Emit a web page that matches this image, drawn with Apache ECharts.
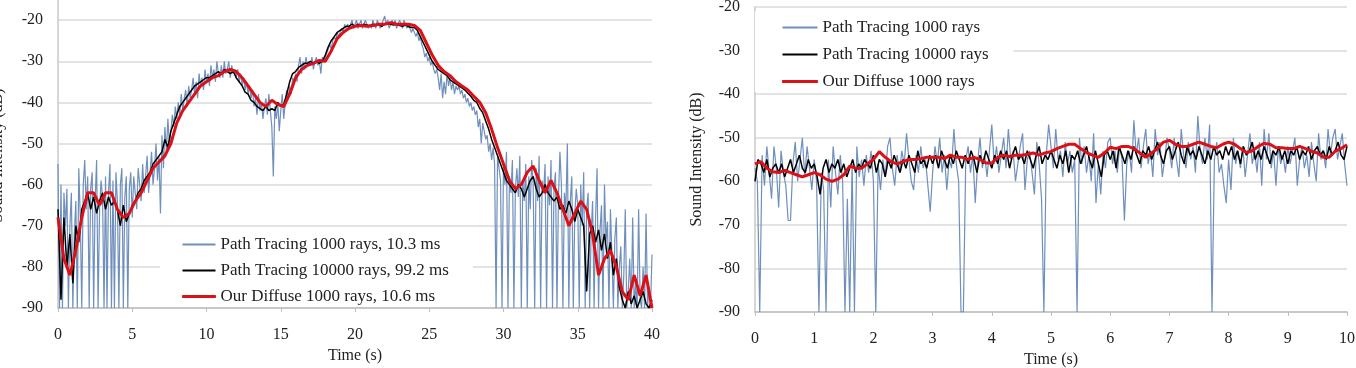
<!DOCTYPE html>
<html>
<head>
<meta charset="utf-8">
<script src="https://cdn.jsdelivr.net/npm/echarts@6/dist/echarts.min.js"></script>
<style>
  html, body { margin: 0; padding: 0; background: #fff; }
  #main { width: 1356px; height: 368px; }
</style>
</head>
<body>
<div id="main"></div>
<script>
// left chart: 0..40 s
var leftNames = ['Path Tracing 1000 rays, 10.3 ms', 'Path Tracing 10000 rays, 99.2 ms', 'Our Diffuse 1000 rays, 10.6 ms'];
var leftXTicks = [0, 5, 10, 15, 20, 25, 30, 35, 40];
var leftBlueStep = 0.1;
var leftBlue = [
  -55, -90, -60, -90, -62, -70, -61, -90, -70, -62,
  -90, -72, -64, -90, -56, -68, -90, -60, -54, -66,
  -58, -90, -61, -57, -90, -64, -54, -90, -66, -59,
  -63, -90, -58, -90, -62, -55, -90, -59, -90, -57,
  -64, -90, -60, -56, -90, -63, -58, -90, -61, -57,
  -68, -58, -62, -66, -56, -60, -64, -55, -62, -58,
  -53, -62, -57, -52, -60, -56, -50, -59, -53, -67,
  -48, -56, -46, -52, -44, -50, -47, -43, -46, -41,
  -44, -40, -43, -38, -42, -39, -37, -41, -36, -39,
  -37, -34, -38, -35, -39, -33, -36, -34, -37, -32,
  -35, -33, -36, -31, -34, -32, -35, -30, -33, -34,
  -31, -34, -30, -33, -32, -30, -34, -31, -33, -32,
  -34, -32, -35, -33, -36, -34, -37, -35, -38, -36,
  -39, -37, -41, -39, -43, -38, -42, -40, -44, -41,
  -39, -43, -38, -42, -46, -58, -41, -44, -40, -47,
  -42, -38, -44, -40, -37, -39, -36, -38, -34, -35,
  -33, -35, -31, -29, -33, -30, -32, -29, -31, -30,
  -31, -29, -32, -30, -29, -31, -30, -33, -29, -30,
  -29, -28, -27, -26, -27, -25, -24, -25, -23, -24,
  -23, -22, -23, -21, -22, -21, -22, -21, -20, -22,
  -21, -20, -22, -21, -20, -22, -21, -20, -21, -22,
  -21, -22, -20, -21, -22, -20, -21, -22, -21, -20,
  -19, -21, -20, -22, -21, -20, -21, -20, -22, -21,
  -20, -21, -22, -20, -21, -22, -21, -22, -23, -22,
  -22, -24, -23, -25, -24, -26, -27, -29, -28, -30,
  -29, -31, -30, -32, -33, -32, -34, -37, -33, -39,
  -35, -38, -33, -36, -34, -37, -35, -38, -36, -37,
  -36, -38, -37, -39, -38, -40, -39, -41, -40, -42,
  -41, -43, -42, -46, -44, -50, -45, -47, -49, -48,
  -52, -50, -54, -51, -55, -90, -53, -56, -59, -90,
  -55, -60, -52, -90, -58, -62, -54, -90, -61, -56,
  -63, -53, -90, -59, -64, -55, -90, -58, -66, -54,
  -60, -90, -56, -64, -53, -90, -59, -62, -55, -90,
  -58, -65, -54, -90, -61, -57, -90, -63, -52, -60,
  -90, -62, -66, -50, -90, -64, -58, -90, -67, -61,
  -65, -90, -60, -70, -57, -90, -66, -62, -90, -72,
  -64, -90, -68, -56, -90, -71, -65, -90, -60, -74,
  -69, -90, -66, -77, -90, -73, -68, -90, -80, -75,
  -90, -82, -66, -90, -86, -78, -90, -68, -90, -84,
  -90, -66, -88, -90, -80, -90, -67, -90, -85, -90,
  -77
];
var leftBlackStep = 0.2;
var leftBlack = [
  -66, -88, -68, -80, -72, -84, -70, -74, -66, -64,
  -62, -66, -63, -67, -64, -62, -66, -63, -65, -64,
  -66, -70, -65, -69, -67, -65, -64, -62, -61, -59,
  -58, -57, -55, -54, -53, -52, -49, -51, -47, -45,
  -43, -41, -40, -39, -38, -37, -36, -35.5, -35, -34.5,
  -34, -34, -33.5, -33, -32.5, -33, -32, -32.5, -33, -32.5,
  -34, -35, -36, -37.5, -38, -39.5, -40, -41, -41.5, -42,
  -41, -42, -41.5, -42, -40, -41, -40.5, -38, -35, -33,
  -32.5, -31.5, -31, -30.5, -30.5, -30, -30.5, -30, -30.5, -30,
  -28.5, -26.5, -25, -24, -23, -22.5, -22, -21.5, -21.5, -21,
  -21.5, -21, -21.5, -21, -21.2, -21.5, -21, -21.3, -21, -21.5,
  -21, -20.8, -21, -21.2, -21, -21.3, -21.5, -21.2, -21.6, -21.8,
  -21.8, -22.5, -24, -25.5, -27, -28.5, -30, -31, -32, -32.5,
  -33, -33.5, -34.5, -35, -35.5, -36, -36.5, -37, -37.8, -38.5,
  -39.5, -40, -41.5, -42.5, -44.5, -46.5, -49, -51, -53, -55,
  -57, -59, -60, -61, -62, -60, -61, -63, -61, -59,
  -58, -61, -63, -62, -60, -62, -63, -64, -63, -66,
  -65, -67, -64, -66, -69, -66, -68, -70, -86, -72,
  -70, -74, -71, -76, -72, -78, -74, -82, -78, -85,
  -88, -90, -86, -89, -87, -90, -88, -86, -89, -90,
  -88
];
var leftRedStep = 0.4;
var leftRed = [
  -68, -78, -82, -76, -68, -62, -62, -65, -62, -62,
  -66, -68, -67, -64, -62, -59, -56, -54.5, -53, -50,
  -45, -42, -40, -38, -36, -35, -34, -33.5, -32.5, -32,
  -32.5, -34, -36, -38, -40, -41, -39.5, -40.5, -41, -38,
  -34, -32, -31, -30.5, -29.8, -30, -27.5, -24.5, -23, -22,
  -21.5, -21.3, -21.5, -21.3, -21, -21, -20.6, -21, -21, -21,
  -21.3, -22.5, -25.5, -28.5, -31, -32.5, -33.5, -35, -36, -37,
  -38.5, -40, -42.5, -46.5, -51, -55, -59, -61, -60, -57,
  -55.5, -59, -62, -59, -62, -66, -70, -67, -64, -66,
  -72, -82, -78, -76, -80, -86, -88, -82, -87, -82,
  -90
];

// right chart: 0..10 s
var rightNames = ['Path Tracing 1000 rays', 'Path Tracing 10000 rays', 'Our Diffuse 1000 rays'];
var rightXTicks = [0, 1, 2, 3, 4, 5, 6, 7, 8, 9, 10];
var yTicks = [-90, -80, -70, -60, -50, -40, -30, -20];
var rightBlueStep = 0.04;
var rightBlue = [
  -57, -60, -90, -54, -61, -52, -58, -64, -52, -57, -66, -53, -58, -61, -69, -69, -56, -51, -60, -55, -50, -59, -52, -57, -62,
  -55, -60, -90, -58, -62, -90, -55, -66, -52, -58, -63, -54, -60, -90, -64, -90, -56, -90, -52, -59, -55, -61, -54, -58, -53,
  -60, -90, -56, -62, -55, -59, -52, -50, -57, -61, -54, -58, -53, -56, -49, -55, -60, -62, -54, -58, -52, -57, -55, -61, -67,
  -58, -52, -56, -50, -58, -54, -62, -55, -57, -48, -56, -60, -90, -90, -55, -52, -58, -54, -65, -56, -50, -57, -54, -59, -53,
  -47, -56, -52, -58, -54, -50, -57, -48, -55, -53, -60, -56, -52, -49, -62, -55, -53, -58, -63, -51, -56, -64, -90, -54, -47,
  -52, -57, -48, -55, -53, -59, -51, -56, -53, -58, -55, -90, -50, -56, -52, -58, -54, -60, -49, -65, -56, -63, -53, -57, -51,
  -50, -56, -53, -58, -52, -55, -69, -56, -53, -58, -46, -54, -50, -57, -52, -48, -56, -53, -59, -48, -54, -51, -59, -55, -50,
  -53, -57, -50, -55, -59, -48, -54, -57, -51, -55, -52, -58, -45, -53, -56, -50, -55, -47, -90, -55, -51, -58, -56, -61, -65,
  -55, -62, -50, -56, -53, -57, -52, -59, -54, -49, -56, -53, -58, -51, -61, -48, -55, -49, -57, -53, -61, -52, -56, -54, -58,
  -52, -56, -53, -50, -61, -55, -52, -57, -54, -59, -51, -56, -60, -49, -55, -53, -57, -48, -54, -50, -48, -55, -52, -49, -56,
  -61
];
var rightBlackStep = 0.05;
var rightBlack = [
  -60, -55, -56, -58, -55, -59, -57, -56, -58, -56,
  -59, -57, -55, -58, -56, -54, -57, -58, -55, -57,
  -56, -59, -63, -57, -55, -58, -56, -57, -55, -58,
  -56, -59, -57, -55, -58, -56, -57, -55, -56, -57,
  -54, -58, -55, -56, -59, -55, -57, -54, -56, -58,
  -55, -57, -54, -56, -58, -53, -56, -55, -57, -54,
  -56, -54, -57, -53, -55, -57, -54, -56, -53, -55,
  -57, -54, -56, -53, -55, -58, -54, -56, -53, -55,
  -57, -54, -56, -53, -55, -53, -57, -54, -52, -55,
  -54, -56, -53, -55, -57, -54, -52, -56, -54, -55,
  -53, -55, -57, -54, -56, -53, -58, -54, -55, -53,
  -56, -54, -52, -55, -57, -53, -56, -59, -54, -53,
  -55, -53, -57, -52, -54, -56, -53, -55, -52, -54,
  -56, -53, -54, -52, -55, -53, -51, -54, -56, -53,
  -52, -55, -53, -51, -54, -56, -52, -54, -53, -55,
  -52, -54, -56, -53, -55, -52, -54, -53, -55, -52,
  -54, -52, -55, -53, -56, -52, -54, -53, -51, -55,
  -53, -55, -52, -54, -56, -53, -54, -52, -55, -53,
  -56, -53, -54, -52, -55, -53, -54, -52, -55, -53,
  -52, -54, -53, -55, -52, -54, -53, -51, -54, -55,
  -52
];
var rightRedStep = 0.1;
var rightRed = [
  -56, -55.5, -57, -57.8, -58, -57.5, -58, -58.5, -59, -58.5,
  -58, -58.5, -59.5, -60, -59.5, -58.5, -56.5, -57, -57, -56,
  -55, -53.2, -54.5, -55.5, -56, -55.5, -55, -55, -54.8, -54.5,
  -54.5, -54.5, -54.8, -54, -54.5, -54.5, -55, -54.5, -55, -55.8,
  -55.8, -54.5, -54, -54.3, -54, -54, -53.8, -53.5, -54, -53.5,
  -53.2, -52.5, -52, -51.5, -51.5, -52.5, -53.4, -54, -54.5, -53.5,
  -52.2, -52.5, -52, -52, -52.5, -53.5, -54.5, -53.5, -52.5, -51,
  -50.6, -51.5, -52, -52, -51.5, -51, -51.5, -52, -52.3, -51.5,
  -51, -51.5, -52.5, -53.4, -53, -52, -51.3, -51.5, -52.3, -52.3,
  -52.5, -52.5, -52, -52.5, -53.1, -53.5, -54.5, -54.5, -53.1, -52.5,
  -51.6
];

var colors = ['#6f8fbc', '#000000', '#dc1017'];
var widths = [1.2, 1.5, 3];
var iconBorders = [0, 0, 1];
var serif = 'Liberation Serif';

function toPairs(values, step) {
  return values.map(function (v, i) { return [+(i * step).toFixed(3), v]; });
}

function makeSeries(name, values, step, idx, k) {
  return {
    name: name,
    type: 'line',
    xAxisIndex: idx,
    yAxisIndex: idx,
    data: toPairs(values, step),
    symbol: 'none',
    lineStyle: { color: colors[k], width: widths[k] },
    itemStyle: { color: colors[k] },
    animation: false,
    z: 2 + k
  };
}

function legendData(names) {
  return names.map(function (n, k) {
    return { name: n, itemStyle: { color: colors[k], borderColor: colors[k], borderWidth: iconBorders[k] } };
  });
}

function xAxisOf(idx, ticks) {
  return {
    gridIndex: idx,
    type: 'value',
    min: ticks[0],
    max: ticks[ticks.length - 1],
    interval: ticks[1] - ticks[0],
    name: 'Time (s)',
    nameLocation: 'middle',
    nameGap: 40,
    nameTextStyle: { fontFamily: serif, fontSize: 16, color: '#222' },
    axisLine: { lineStyle: { color: '#bfbfbf', width: 1.5 } },
    axisTick: { show: true, inside: false, length: 4, lineStyle: { color: '#bfbfbf' } },
    axisLabel: { fontFamily: serif, fontSize: 16, color: '#222', margin: 19 },
    splitLine: { show: false }
  };
}

function yAxisOf(idx, max, gap, namePad) {
  return {
    gridIndex: idx,
    type: 'value',
    min: yTicks[0],
    max: max,
    interval: 10,
    name: 'Sound Intensity (dB)',
    nameLocation: 'middle',
    nameGap: gap,
    nameTextStyle: { fontFamily: serif, fontSize: 16, color: '#222', padding: namePad },
    axisLine: { show: true, lineStyle: { color: '#c8c8c8', width: 1.5 } },
    axisTick: { show: false },
    axisLabel: {
      fontFamily: serif, fontSize: 16, color: '#222', margin: 15,
      formatter: function (v) { return yTicks.indexOf(v) >= 0 ? String(v) : ''; }
    },
    splitLine: { show: true, lineStyle: { color: '#dadada', width: 1.5 } }
  };
}

var legendText = { fontFamily: serif, fontSize: 17, color: '#222' };

var myChart = echarts.init(document.getElementById('main'));
myChart.setOption({
  backgroundColor: '#fff',
  animation: false,
  grid: [
    { left: 58, right: 704, top: -21, bottom: 60, outerBoundsMode: 'none' },
    { left: 755, right: 9, top: 7, bottom: 56, outerBoundsMode: 'none' }
  ],
  xAxis: [xAxisOf(0, leftXTicks), xAxisOf(1, rightXTicks)],
  yAxis: [yAxisOf(0, -10, 52, [0, 24, 0, 0]), yAxisOf(1, -20, 50, 0)],
  legend: [
    {
      data: legendData(leftNames), orient: 'vertical', left: 160, top: 228,
      padding: [8, 24, 2, 22], itemGap: 9, itemWidth: 33, itemHeight: 2, icon: 'rect',
      backgroundColor: '#fff', textStyle: legendText, selectedMode: false
    },
    {
      data: legendData(rightNames), orient: 'vertical', left: 755, top: 11,
      padding: [8, 25, 2, 27], itemGap: 10, itemWidth: 35, itemHeight: 2, icon: 'rect',
      backgroundColor: '#fff', textStyle: legendText, selectedMode: false
    }
  ],
  series: [
    makeSeries(leftNames[0], leftBlue, leftBlueStep, 0, 0),
    makeSeries(leftNames[1], leftBlack, leftBlackStep, 0, 1),
    makeSeries(leftNames[2], leftRed, leftRedStep, 0, 2),
    makeSeries(rightNames[0], rightBlue, rightBlueStep, 1, 0),
    makeSeries(rightNames[1], rightBlack, rightBlackStep, 1, 1),
    makeSeries(rightNames[2], rightRed, rightRedStep, 1, 2)
  ]
});
</script>
</body>
</html>
